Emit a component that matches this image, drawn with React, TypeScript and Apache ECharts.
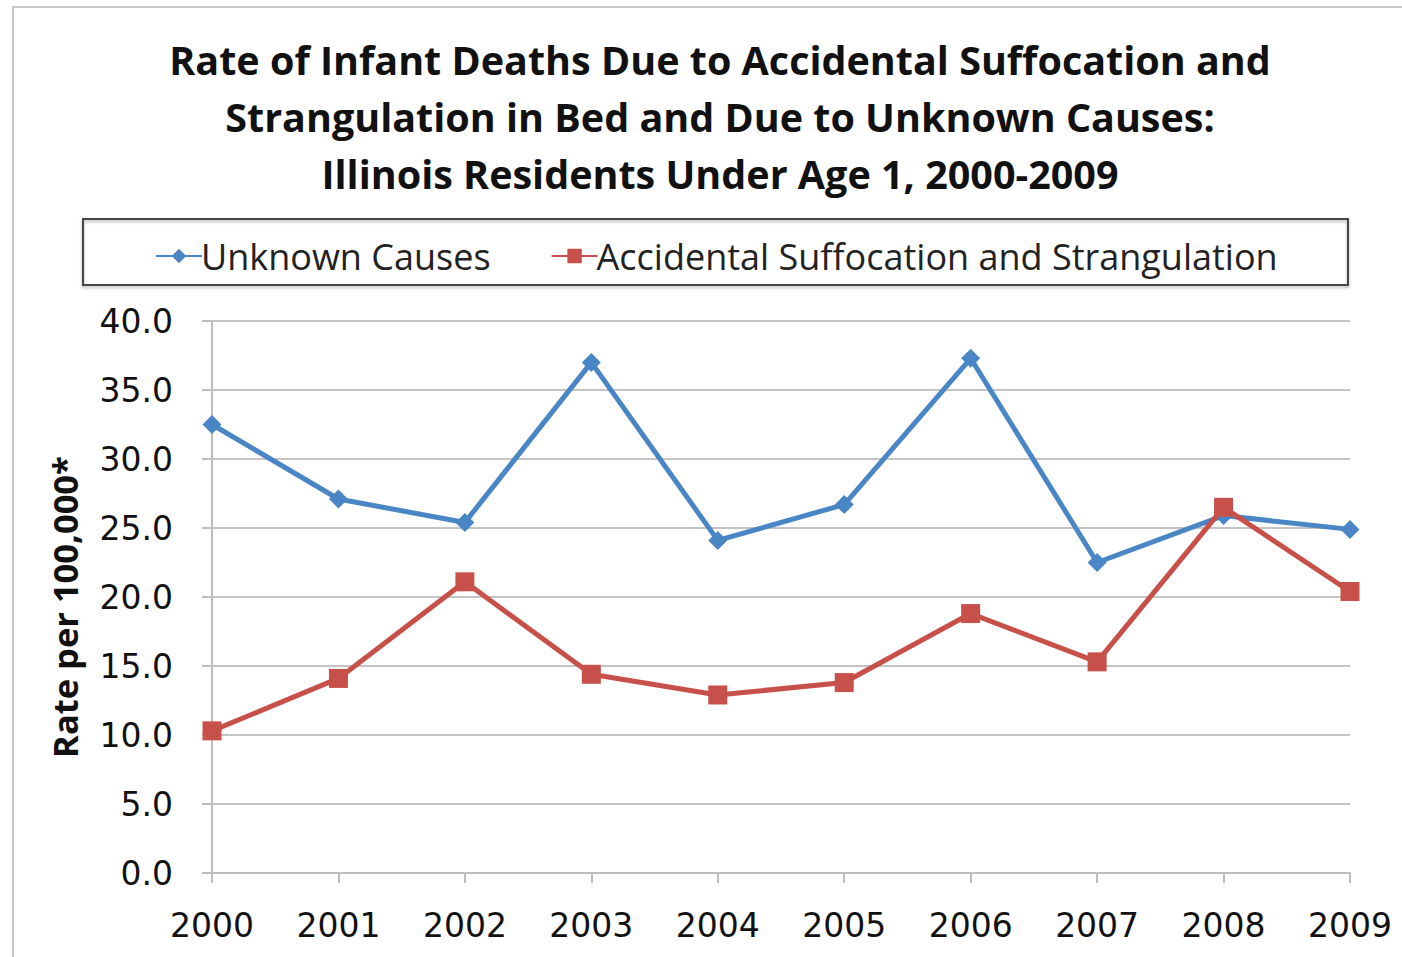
import React, { useEffect, useRef } from "react";
import * as echarts from "echarts";

const years = ["2000", "2001", "2002", "2003", "2004", "2005", "2006", "2007", "2008", "2009"];
const unknownCauses = [32.5, 27.1, 25.4, 37.0, 24.1, 26.7, 37.3, 22.5, 25.9, 24.9];
const accidental = [10.3, 14.1, 21.1, 14.4, 12.9, 13.8, 18.8, 15.3, 26.5, 20.4];
const titleLines = [
  "Rate of Infant Deaths Due to Accidental Suffocation and",
  "Strangulation in Bed and Due to Unknown Causes:",
  "Illinois Residents Under Age 1, 2000-2009",
];

export default function App() {
  const ref = useRef<HTMLDivElement>(null);
  useEffect(() => {
    if (!ref.current) return;
    const chart = echarts.init(ref.current, undefined, { renderer: "svg" });
    const blue = "#4a86c5";
    const red = "#c8504b";
    chart.setOption({
      animation: false,
      backgroundColor: "#ffffff",
      title: {
        text: titleLines.join("\n"),
        left: 715,
        top: 26,
        textAlign: "center",
        textStyle: {
          fontFamily: "Open Sans",
          fontWeight: "bold",
          fontSize: 39.5,
          lineHeight: 57,
          color: "#111",
        },
      },
      graphic: [
        {
          type: "rect",
          shape: { x: 13, y: 7, width: 1400, height: 960 },
          style: { fill: "none", stroke: "#c8c8c8", lineWidth: 2 },
        },
        {
          type: "rect",
          shape: { x: 83, y: 219, width: 1265, height: 66 },
          style: { fill: "none", stroke: "#444", lineWidth: 2, shadowColor: "rgba(0,0,0,0.3)", shadowBlur: 3, shadowOffsetY: 2 },
        },
      ],
      legend: {
        left: 150,
        top: 233,
        itemWidth: 46,
        itemHeight: 18,
        itemGap: 60,
        textStyle: { fontFamily: "Open Sans", fontSize: 36, color: "#222", padding: [0, 0, 0, -6] },
        data: ["Unknown Causes", "Accidental Suffocation and Strangulation"],
      },
      grid: { left: 212, right: 52, top: 321, bottom: 84, containLabel: false },
      xAxis: {
        type: "category",
        data: years,
        boundaryGap: false,
        axisLine: { show: true, lineStyle: { color: "#bdbdbd", width: 2 } },
        axisTick: { show: true, length: 10, lineStyle: { color: "#bdbdbd", width: 2 } },
        axisLabel: { fontFamily: "DejaVu Sans", fontSize: 33, color: "#111", margin: 36 },
        splitLine: { show: false },
      },
      yAxis: {
        type: "value",
        min: 0,
        max: 40,
        interval: 5,
        name: "Rate per 100,000*",
        nameLocation: "middle",
        nameGap: 130,
        nameTextStyle: { fontFamily: "Open Sans", fontWeight: "bold", fontSize: 34.5, color: "#111", padding: [0, 20, 0, 0] },
        axisLine: { show: true, lineStyle: { color: "#bdbdbd", width: 2 } },
        axisTick: { show: true, length: 10, lineStyle: { color: "#bdbdbd", width: 2 } },
        axisLabel: {
          fontFamily: "DejaVu Sans",
          fontSize: 33,
          color: "#111",
          margin: 39,
          formatter: (v: number) => v.toFixed(1),
        },
        splitLine: { show: true, lineStyle: { color: "#c4c4c4", width: 2 } },
      },
      series: [
        {
          name: "Unknown Causes",
          type: "line",
          data: unknownCauses,
          symbol: "diamond",
          symbolSize: 19,
          itemStyle: { color: blue },
          lineStyle: { color: blue, width: 5 },
          z: 2,
        },
        {
          name: "Accidental Suffocation and Strangulation",
          type: "line",
          data: accidental,
          symbol: "rect",
          symbolSize: 19,
          itemStyle: { color: red },
          lineStyle: { color: red, width: 5 },
          z: 3,
        },
      ],
    });
    return () => chart.dispose();
  }, []);
  return (
    <div
      ref={ref}
      style={{ position: "fixed", left: 0, top: 0, width: 1402, height: 957 }}
    />
  );
}
